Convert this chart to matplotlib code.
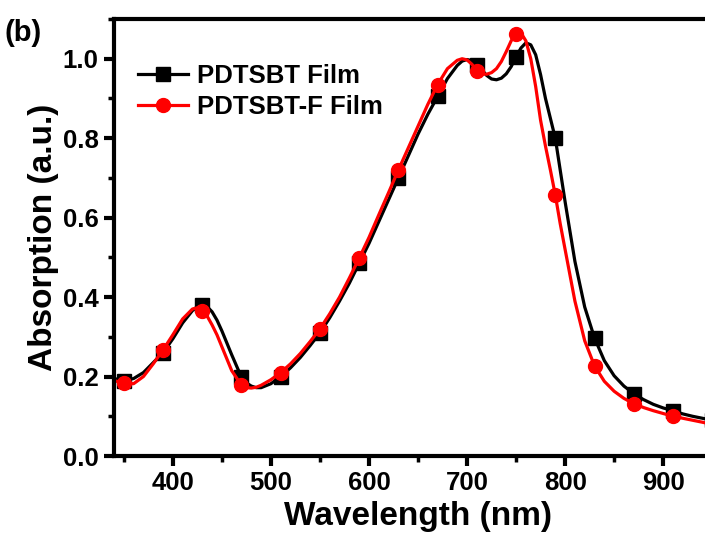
import matplotlib
matplotlib.use('Agg')
import matplotlib.pyplot as plt
from matplotlib.ticker import MultipleLocator

# longueurs d'onde (nm) des points de la courbe, plus serrés autour des pics
wl = [340, 350, 360, 370, 380, 390, 400, 410, 420, 425, 430, 435, 440, 445, 450, 460, 470,
      475, 480, 485, 490, 500, 510, 520, 530, 540, 550, 560, 570, 580, 590, 600, 610, 620,
      630, 640, 650, 660, 670, 680, 690, 695, 700, 705, 710, 715, 720, 725, 730, 735, 740,
      745, 750, 755, 760, 765, 770, 775, 780, 785, 790, 795, 800, 810, 820, 830, 840, 850,
      860, 870, 880, 890, 900, 910, 920, 930, 940, 950, 960]

# PDTSBT Film (noir)
abs_pdtsbt = [0.195, 0.19, 0.195, 0.21, 0.235, 0.26, 0.295, 0.335, 0.366, 0.376, 0.38, 0.376,
              0.363, 0.342, 0.315, 0.255, 0.198, 0.184, 0.176, 0.172, 0.172, 0.182, 0.20,
              0.222, 0.248, 0.278, 0.31, 0.348, 0.39, 0.435, 0.485, 0.535, 0.59, 0.645, 0.70,
              0.755, 0.81, 0.86, 0.905, 0.95, 0.983, 0.994, 0.998, 0.995, 0.985, 0.972, 0.958,
              0.949, 0.947, 0.951, 0.962, 0.98, 1.005, 1.027, 1.04, 1.035, 1.01, 0.96, 0.90,
              0.85, 0.80, 0.72, 0.64, 0.49, 0.375, 0.297, 0.24, 0.202, 0.176, 0.157, 0.142,
              0.13, 0.121, 0.114, 0.106, 0.1, 0.095, 0.09, 0.087]

# PDTSBT-F Film (rouge)
abs_pdtsbt_f = [0.19, 0.183, 0.182, 0.20, 0.232, 0.267, 0.305, 0.345, 0.37, 0.373, 0.365,
                0.352, 0.33, 0.305, 0.275, 0.215, 0.178, 0.172, 0.171, 0.173, 0.178, 0.192,
                0.21, 0.232, 0.258, 0.288, 0.32, 0.358, 0.40, 0.448, 0.498, 0.55, 0.607, 0.663,
                0.72, 0.775, 0.83, 0.885, 0.935, 0.975, 0.996, 1.0, 0.997, 0.986, 0.97, 0.962,
                0.961, 0.965, 0.975, 0.993, 1.018, 1.045, 1.063, 1.065, 1.045, 1.0, 0.93, 0.845,
                0.78, 0.72, 0.657, 0.585, 0.52, 0.39, 0.29, 0.227, 0.188, 0.163, 0.145, 0.132,
                0.122, 0.114, 0.107, 0.10, 0.095, 0.09, 0.085, 0.08, 0.077]

# les symboles sont tous les 40 nm
wl_symboles = [350, 390, 430, 470, 510, 550, 590, 630, 670, 710, 750, 790, 830, 870, 910, 950]
idx = [wl.index(w) for w in wl_symboles]

plt.rcParams['font.family'] = ['Liberation Sans', 'DejaVu Sans']
plt.rcParams['font.weight'] = 'bold'

fig = plt.figure(figsize=(7.05, 5.46), dpi=100)
# l'axe depasse a droite : la figure d'origine est coupee
ax = fig.add_axes([114/705, 90/546, 608/705, 437/546])

ax.plot(wl, abs_pdtsbt, color='black', lw=2.3, marker='s', ms=9.5, markevery=idx,
        label='PDTSBT Film', solid_joinstyle='round')
ax.plot(wl, abs_pdtsbt_f, color='red', lw=2.3, marker='o', ms=10, markevery=idx,
        label='PDTSBT-F Film', solid_joinstyle='round')

ax.set_xlim(340, 960)
ax.set_ylim(0, 1.1)
ax.xaxis.set_major_locator(MultipleLocator(100))
ax.xaxis.set_minor_locator(MultipleLocator(50))
ax.yaxis.set_major_locator(MultipleLocator(0.2))
ax.yaxis.set_minor_locator(MultipleLocator(0.1))
ax.yaxis.set_major_formatter(plt.FormatStrFormatter('%.1f'))

for s in ax.spines.values():
    s.set_linewidth(3)
ax.tick_params(which='major', direction='out', length=7, width=3, labelsize=18.5, pad=4)
ax.tick_params(which='minor', direction='out', length=4, width=2.5)
for t in ax.get_xticklabels() + ax.get_yticklabels():
    t.set_fontweight('bold')

ax.set_xlabel('Wavelength (nm)', fontsize=24, fontweight='bold', labelpad=4)
ax.set_ylabel('Absorption (a.u.)', fontsize=24, fontweight='bold', labelpad=3)

ax.legend(loc='upper left', bbox_to_anchor=(0.005, 0.945), frameon=False,
          handlelength=1.95, handletextpad=0.35, labelspacing=0.3, borderaxespad=0.4,
          prop={'weight': 'bold', 'size': 18.5})

fig.text(5/705, 1 - 41/546, '(b)', fontsize=21, fontweight='bold')

fig.savefig('out.png', dpi=100)
